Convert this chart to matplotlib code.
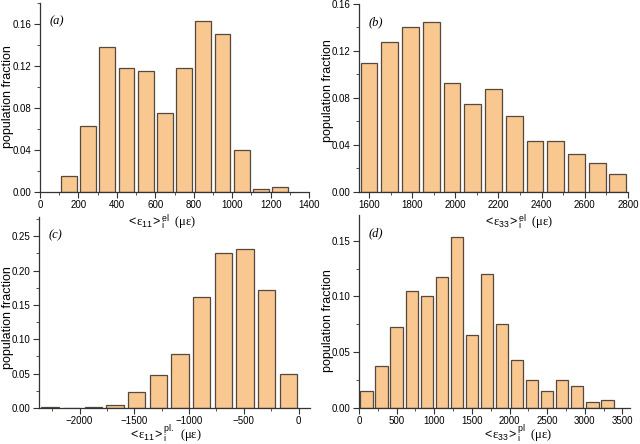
import matplotlib
matplotlib.use("Agg")
import matplotlib.pyplot as plt
from matplotlib.ticker import MultipleLocator, FormatStrFormatter

# ---- data ----
a_centers = [150, 250, 350, 450, 550, 650, 750, 850, 950, 1050, 1150, 1250]
a_vals = [0.015, 0.063, 0.138, 0.118, 0.115, 0.075, 0.118, 0.163, 0.150, 0.040, 0.003, 0.005]

b_centers = [1600, 1696, 1792, 1888, 1985, 2081, 2177, 2273, 2369, 2465, 2561, 2657, 2753]
b_vals = [0.110, 0.1275, 0.140, 0.145, 0.0925, 0.075, 0.0875, 0.065, 0.043, 0.043, 0.0325, 0.025, 0.015]

c_centers = [-2270, -2072, -1874, -1677, -1479, -1281, -1083, -885, -688, -490, -292, -94]
c_vals = [0.002, 0.0, 0.002, 0.005, 0.023, 0.048, 0.078, 0.162, 0.225, 0.232, 0.172, 0.050]

d_centers = [100, 300, 500, 700, 900, 1100, 1300, 1500, 1700, 1900, 2100, 2300, 2500, 2700, 2900, 3100, 3300]
d_vals = [0.015, 0.0375, 0.073, 0.105, 0.100, 0.1175, 0.153, 0.065, 0.120, 0.075, 0.043, 0.025, 0.015, 0.025, 0.020, 0.005, 0.0075]

a_label = r'$\mathsf{<}\!\mathrm{\varepsilon}_{\mathsf{11}}\!\mathsf{>}_{\mathsf{i}}^{\mathsf{el}}\ \ \mathrm{(\mu\varepsilon)}$'
b_label = r'$\mathsf{<}\!\mathrm{\varepsilon}_{\mathsf{33}}\!\mathsf{>}_{\mathsf{i}}^{\mathsf{el}}\ \ \mathrm{(\mu\varepsilon)}$'
c_label = r'$\mathsf{<}\!\mathrm{\varepsilon}_{\mathsf{11}}\!\mathsf{>}_{\mathsf{i}}^{\mathsf{pl.}}\ \ \mathrm{(\mu\varepsilon)}$'
d_label = r'$\mathsf{<}\!\mathrm{\varepsilon}_{\mathsf{33}}\!\mathsf{>}_{\mathsf{i}}^{\mathsf{pl}}\ \ \mathrm{(\mu\varepsilon)}$'
y_label = 'population fraction'

plt.rcParams['font.family'] = ['Liberation Sans', 'DejaVu Sans']
plt.rcParams['mathtext.fontset'] = 'custom'
plt.rcParams['mathtext.rm'] = 'Liberation Serif'
plt.rcParams['mathtext.it'] = 'Liberation Serif:italic'
plt.rcParams['mathtext.sf'] = 'Liberation Sans'

FACE = '#F8C890'
EDGE = '#56483C'
AXC = '#333333'

W, H = 640, 444
fig = plt.figure(figsize=(6.4, 4.44), dpi=100)

def rect(l, t, r, b):
    return [l / W, (H - b) / H, (r - l) / W, (b - t) / H]

panels = [
    dict(box=rect(40, 3, 309, 192), x=a_centers, y=a_vals, w=82, xlim=(0, 1400), ylim=(0, 0.18),
         xmaj=200, xmin=100, ymaj=0.04, ymin=0.02, label=a_label, tag='(a)',
         xl=(162, 226), yl=(8, 97)),
    dict(box=rect(359, 4, 628, 192), x=b_centers, y=b_vals, w=78, xlim=(1554, 2800), ylim=(0, 0.16),
         xmaj=200, xmin=100, ymaj=0.04, ymin=0.02, label=b_label, tag='(b)',
         xl=(519, 226), yl=(328, 91)),
    dict(box=rect(39, 217, 310, 408), x=c_centers, y=c_vals, w=158, xlim=(-2370, 105), ylim=(0, 0.278),
         xmaj=500, xmin=250, ymaj=0.05, ymin=0.025, label=c_label, tag='(c)',
         xl=(165, 439), yl=(8, 318)),
    dict(box=rect(359, 215, 630, 408), x=d_centers, y=d_vals, w=164, xlim=(0, 3600), ylim=(0, 0.173),
         xmaj=500, xmin=250, ymaj=0.05, ymin=0.025, label=d_label, tag='(d)',
         xl=(518, 439), yl=(328, 321)),
]

for p in panels:
    ax = fig.add_axes(p['box'])
    ax.bar(p['x'], p['y'], width=p['w'], color=FACE, edgecolor=EDGE, linewidth=0.9, zorder=2)
    ax.set_xlim(*p['xlim'])
    ax.set_ylim(*p['ylim'])
    ax.spines['top'].set_visible(False)
    ax.spines['right'].set_visible(False)
    for s in ('left', 'bottom'):
        ax.spines[s].set_linewidth(0.9)
        ax.spines[s].set_color(AXC)
    ax.xaxis.set_major_locator(MultipleLocator(p['xmaj']))
    ax.xaxis.set_minor_locator(MultipleLocator(p['xmin']))
    ax.yaxis.set_major_locator(MultipleLocator(p['ymaj']))
    ax.yaxis.set_minor_locator(MultipleLocator(p['ymin']))
    ax.yaxis.set_major_formatter(FormatStrFormatter('%.2f'))
    ax.tick_params(which='major', direction='out', length=4, width=0.8, labelsize=7,
                   color=AXC, pad=2)
    ax.tick_params(which='minor', direction='out', length=2.2, width=0.6, color=AXC)
    ax.text(0.037, 0.905, p['tag'], transform=ax.transAxes, fontsize=9,
            family='Liberation Serif', style='italic', va='center', ha='left')
    ax.patch.set_alpha(0)
    fig.text(p['xl'][0] / W, 1 - p['xl'][1] / H, p['label'], fontsize=9,
             ha='center', va='baseline')
    fig.text(p['yl'][0] / W, 1 - p['yl'][1] / H, y_label, fontsize=9,
             rotation=90, ha='center', va='center')

fig.savefig('out.png', dpi=100)
